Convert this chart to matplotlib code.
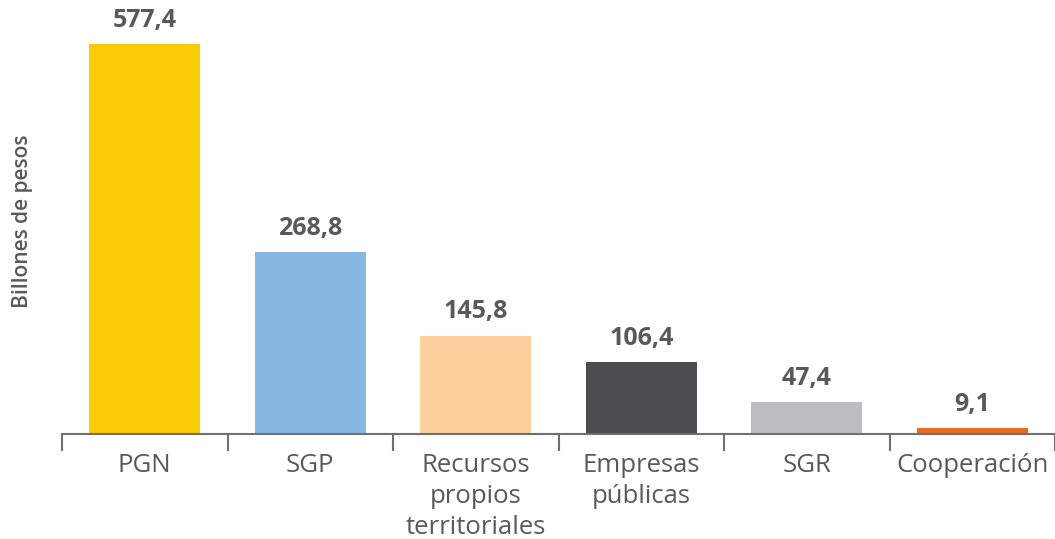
import matplotlib
matplotlib.use("Agg")
import matplotlib.pyplot as plt

categories = ["PGN", "SGP", "Recursos\npropios\nterritoriales", "Empresas\npúblicas", "SGR", "Cooperación"]
values = [577.4, 268.8, 145.8, 106.4, 47.4, 9.1]
colors = ["#FDCA06", "#85B8E3", "#FDD09E", "#4D4D4F", "#BCBDC0", "#EA6A24"]

plt.rcParams["font.family"] = ["Open Sans", "DejaVu Sans"]
text_color = "#595959"

fig = plt.figure(figsize=(10.55, 5.39), dpi=100)
ax = fig.add_axes([62 / 1055, 105 / 539, (1055 - 62) / 1055, 434 / 539])

x = list(range(len(categories)))
bars = ax.bar(x, values, width=0.67, color=colors, zorder=2)

for xi, v in zip(x, values):
    ax.annotate(f"{v:.1f}".replace(".", ","), (xi, v), xytext=(0, 8),
                textcoords="offset points", ha="center", va="bottom",
                fontsize=18, fontweight="bold", color=text_color)

ax.set_xlim(-0.5, -0.5 + (1055 - 62) / 166)
ax.set_ylim(0, 642.5)

for s in ["top", "right", "left"]:
    ax.spines[s].set_visible(False)
ax.spines["bottom"].set_color("#707070")
ax.spines["bottom"].set_linewidth(1.5)

ax.set_yticks([])
ax.set_xticks([i - 0.5 for i in range(len(categories) + 1)])
ax.set_xticklabels([])
ax.set_xticks(x, minor=True)
ax.set_xticklabels(categories, minor=True, fontsize=18.5, fontweight="medium",
                   color=text_color, linespacing=1.3)
ax.tick_params(axis="x", which="major", length=12, width=1.5, color="#707070", direction="out")
ax.tick_params(axis="x", which="minor", length=0, pad=14)

fig.text(23 / 1055, (539 - 221) / 539, "Billones de pesos", rotation=90,
         ha="center", va="center", fontsize=15, fontweight="semibold", color=text_color)

fig.savefig("out.png", dpi=100)
